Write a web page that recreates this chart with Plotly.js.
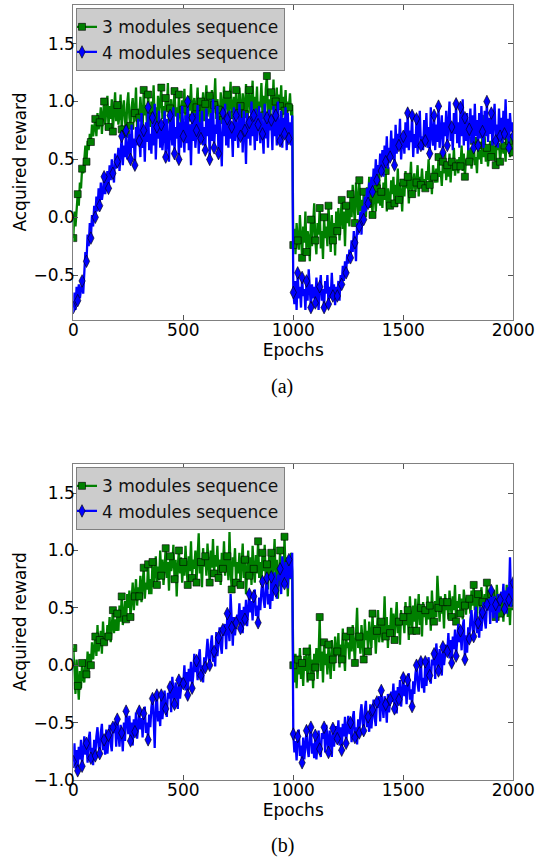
<!DOCTYPE html>
<html><head><meta charset="utf-8">
<script src="https://cdn.plot.ly/plotly-3.0.1.min.js"></script>
<style>html,body{margin:0;padding:0;background:#fff}#chart{width:536px;height:858px}</style>
</head><body><div id="chart"></div>
<script>
// ---- data: acquired reward, one value every 5 epochs (0..2000) ----
const epochStep = 5;
const seriesNames = ['3 modules sequence', '4 modules sequence'];
const xTicks = [0, 500, 1000, 1500, 2000];
const yTicksA = [-0.5, 0, 0.5, 1, 1.5];
const yTicksB = [-1, -0.5, 0, 0.5, 1, 1.5];
const captions = ['(a)', '(b)'];

// (a) 3 modules sequence
const greenA = [
 -0.18,0.05,-0.08,0.12,0.2,0.1,0.3,0.25,0.42,0.38,
 0.5,0.62,0.48,0.66,0.58,0.72,0.65,0.8,0.7,0.76,
 0.85,0.7,0.9,0.76,0.82,0.95,0.72,0.88,1.0,0.8,
 0.92,1.05,0.78,0.96,0.85,1.02,0.74,0.9,1.08,0.83,
 0.97,0.8,0.88,1.06,0.76,0.93,1.01,0.84,0.72,0.98,
 1.08,0.86,0.79,0.95,1.03,0.82,0.9,1.12,0.77,0.94,
 0.86,1.04,0.93,0.75,1.1,0.88,0.97,0.8,1.06,0.91,
 0.78,1.0,0.87,1.14,0.83,0.95,0.74,1.05,0.9,0.99,
 1.12,0.85,0.96,0.79,1.03,0.92,1.16,0.81,0.94,1.02,
 0.76,0.98,1.09,0.87,0.95,0.8,1.06,0.9,0.78,1.01,
 0.93,1.11,0.84,0.99,0.77,1.05,0.92,1.15,0.86,0.97,
 1.03,0.8,0.95,1.12,0.88,0.76,1.0,0.91,1.08,0.83,
 0.98,1.14,0.87,0.94,1.05,0.79,1.1,0.9,0.97,1.2,
 0.85,1.02,0.93,0.78,1.08,0.96,0.84,1.13,0.9,1.0,
 1.06,0.82,0.99,1.17,0.88,0.95,1.04,0.8,1.1,0.93,
 0.87,1.12,0.96,0.81,1.07,1.0,0.89,1.15,0.84,1.03,
 1.1,0.9,0.98,1.18,0.85,1.04,0.92,1.13,0.83,1.0,
 0.95,1.16,0.88,1.05,0.8,1.11,1.22,0.9,1.02,0.86,
 1.08,0.93,1.19,0.84,1.0,1.12,0.88,1.06,0.96,1.14,
 0.86,1.04,0.92,1.1,0.83,1.0,0.95,1.07,0.88,0.97,
 -0.24,-0.1,-0.32,-0.05,-0.2,-0.28,0.02,-0.15,-0.35,-0.08,
 -0.22,0.05,-0.3,-0.12,-0.18,-0.38,-0.02,-0.25,-0.1,0.12,
 -0.2,-0.32,-0.05,-0.15,0.08,-0.27,-0.12,-0.36,0.0,-0.18,
 -0.08,-0.25,0.1,-0.15,-0.3,0.02,-0.2,-0.05,-0.33,0.05,
 -0.12,0.08,-0.2,-0.02,0.15,-0.1,0.05,-0.25,0.1,-0.05,
 0.12,-0.08,0.2,0.0,0.28,0.08,-0.05,0.3,0.15,0.02,
 0.32,0.05,0.15,-0.05,0.22,0.1,0.0,0.26,0.12,0.35,
 0.08,0.2,0.02,0.3,0.15,0.05,0.25,0.12,0.38,0.1,
 0.22,0.08,0.3,0.15,0.4,0.05,0.25,0.18,0.1,0.32,
 0.2,0.35,0.12,0.28,0.18,0.42,0.15,0.3,0.22,0.05,
 0.3,0.18,0.4,0.25,0.35,0.12,0.32,0.48,0.2,0.28,
 0.38,0.22,0.3,0.45,0.18,0.35,0.28,0.42,0.26,0.33,
 0.25,0.4,0.32,0.5,0.28,0.36,0.2,0.45,0.35,0.3,
 0.42,0.3,0.52,0.35,0.4,0.27,0.48,0.38,0.56,0.32,
 0.45,0.35,0.55,0.3,0.48,0.4,0.6,0.36,0.44,0.5,
 0.38,0.52,0.44,0.62,0.4,0.55,0.35,0.5,0.46,0.58,
 0.48,0.6,0.42,0.55,0.66,0.45,0.52,0.38,0.62,0.5,
 0.58,0.46,0.85,0.52,0.7,0.48,0.6,0.44,0.56,0.66,
 0.52,0.68,0.5,0.62,0.45,0.72,0.58,0.64,0.48,0.6,
 0.7,0.55,0.62,0.48,0.75,0.58,0.66,0.52,0.72,0.6,
 0.56
];
// (a) 4 modules sequence
const blueA = [
 -0.78,-0.65,-0.8,-0.6,-0.72,-0.58,-0.7,-0.62,-0.55,-0.66,
 -0.45,-0.3,-0.38,-0.15,-0.25,-0.05,-0.18,0.02,-0.08,0.1,
 0.0,0.18,0.05,0.25,0.1,0.3,0.15,0.22,0.35,0.2,
 0.28,0.4,0.25,0.45,0.32,0.5,0.38,0.3,0.55,0.42,
 0.48,0.6,0.4,0.55,0.7,0.45,0.62,0.52,0.75,0.5,
 0.58,0.72,0.5,0.8,0.6,0.68,0.45,0.78,0.62,0.85,
 0.66,0.52,0.9,0.6,0.75,0.48,0.82,0.65,0.95,0.58,
 0.72,0.55,0.86,0.62,0.98,0.5,0.78,0.68,0.92,0.6,
 0.8,0.58,0.7,0.92,0.52,0.85,0.65,0.48,0.88,0.72,
 0.62,0.95,0.55,0.78,0.68,0.9,0.5,0.82,0.6,0.96,
 0.7,0.56,0.88,0.64,1.0,0.58,0.8,0.45,0.86,0.66,
 0.9,0.6,0.75,0.97,0.55,0.82,0.68,0.92,0.62,0.78,
 0.58,0.94,0.7,0.85,0.5,0.9,0.66,1.02,0.6,0.8,
 0.72,0.96,0.55,0.84,0.65,0.44,0.9,0.7,0.98,0.62,
 0.85,0.6,0.92,0.68,0.78,0.52,0.95,0.66,0.88,0.74,
 0.6,0.98,0.7,0.86,0.56,0.92,0.75,0.46,0.9,0.68,
 0.82,0.62,1.0,0.7,0.88,0.58,0.94,0.66,0.8,0.96,
 0.64,0.9,0.72,0.55,0.98,0.68,0.86,0.6,0.93,0.75,
 0.84,0.58,0.96,0.7,0.88,0.62,1.0,0.74,0.66,0.92,
 0.6,0.86,0.72,0.95,0.58,0.9,0.68,0.82,0.62,0.88,
 -0.65,-0.75,-0.55,-0.8,-0.48,-0.7,-0.6,-0.78,-0.52,-0.68,
 -0.62,-0.8,-0.55,-0.72,-0.45,-0.66,-0.78,-0.58,-0.7,-0.6,
 -0.74,-0.52,-0.68,-0.8,-0.6,-0.5,-0.72,-0.62,-0.78,-0.55,
 -0.66,-0.5,-0.75,-0.6,-0.7,-0.48,-0.68,-0.58,-0.76,-0.6,
 -0.68,-0.55,-0.72,-0.5,-0.58,-0.42,-0.55,-0.38,-0.48,-0.32,
 -0.4,-0.28,-0.35,-0.2,-0.3,-0.12,-0.22,-0.38,-0.05,-0.15,
 -0.08,0.05,-0.15,0.1,-0.02,0.18,0.05,0.25,0.12,0.3,
 0.2,0.35,0.22,0.42,0.28,0.5,0.32,0.45,0.38,0.55,
 0.4,0.58,0.35,0.62,0.48,0.7,0.42,0.6,0.52,0.75,
 0.5,0.68,0.45,0.8,0.55,0.72,0.62,0.85,0.5,0.66,
 0.7,0.55,0.82,0.6,0.9,0.58,0.75,0.65,0.88,0.52,
 0.72,0.6,0.85,0.55,0.78,0.92,0.62,0.7,0.58,0.84,
 0.66,0.9,0.6,0.78,0.55,0.95,0.7,0.62,0.88,0.58,
 0.8,0.65,0.96,0.6,0.75,0.88,0.56,0.82,0.7,0.92,
 0.62,0.85,1.0,0.66,0.78,0.58,0.9,0.72,0.98,0.64,
 0.82,0.6,0.95,0.7,1.02,0.62,0.86,0.66,0.9,0.58,
 0.76,0.94,0.64,0.88,0.6,0.98,0.7,0.84,0.62,0.9,
 0.68,0.96,0.74,0.6,0.92,0.7,1.0,0.65,0.86,0.72,
 0.9,0.62,0.84,0.98,0.66,0.8,0.6,0.94,0.7,0.86,
 0.64,0.92,0.72,1.02,0.68,0.85,0.6,0.9,0.74,0.82,
 0.7
];
// (b) 3 modules sequence
const greenB = [
 0.15,-0.1,-0.25,0.05,-0.18,-0.3,-0.05,-0.2,0.02,-0.12,
 -0.15,0.05,-0.08,0.12,-0.05,0.1,0.0,0.2,0.05,0.15,
 0.25,0.08,0.35,0.12,0.22,0.3,0.1,0.38,0.2,0.28,
 0.18,0.35,0.25,0.42,0.2,0.32,0.48,0.28,0.4,0.3,
 0.45,0.3,0.52,0.38,0.6,0.35,0.48,0.56,0.4,0.62,
 0.5,0.65,0.42,0.58,0.72,0.48,0.6,0.75,0.52,0.68,
 0.6,0.78,0.55,0.7,0.85,0.58,0.72,0.66,0.88,0.62,
 0.75,0.62,0.9,0.68,0.82,0.95,0.7,0.86,0.74,1.0,
 0.78,0.92,0.7,0.85,1.02,0.76,0.9,0.65,0.95,0.82,
 0.88,1.05,0.75,0.92,0.6,0.86,1.0,0.8,0.94,0.72,
 0.9,0.78,1.04,0.85,0.7,0.95,0.82,1.08,0.76,0.92,
 0.84,1.0,0.72,0.94,1.15,0.8,0.9,0.68,1.02,0.86,
 0.95,0.78,1.06,0.88,0.72,1.0,0.85,1.1,0.8,0.96,
 0.86,1.04,0.76,0.92,0.7,0.98,0.84,1.08,0.78,0.9,
 0.95,0.74,1.16,0.82,0.66,0.94,0.86,1.02,0.72,0.9,
 0.8,0.98,0.7,0.88,1.06,0.76,0.92,0.62,0.85,1.0,
 0.78,0.94,0.7,1.04,0.84,0.72,0.96,0.8,1.08,0.76,
 0.9,0.7,0.98,0.82,1.05,0.74,0.88,0.66,0.95,0.8,
 0.98,0.75,0.88,1.1,0.72,0.92,0.58,0.85,1.0,0.78,
 0.9,0.68,1.12,0.8,0.94,0.6,0.88,0.75,0.98,0.82,
 0.0,-0.15,0.1,-0.2,0.05,-0.08,0.15,-0.12,0.02,-0.18,
 0.08,-0.05,0.12,-0.15,0.0,0.18,-0.1,0.05,-0.2,0.1,
 -0.02,0.15,-0.12,0.08,0.42,-0.05,0.12,-0.15,0.2,0.0,
 0.1,-0.08,0.18,0.02,-0.12,0.22,0.05,-0.05,0.25,0.08,
 0.12,0.28,-0.02,0.18,0.05,0.32,0.1,-0.05,0.25,0.15,
 0.2,0.05,0.3,0.12,0.35,0.18,0.02,0.28,0.5,0.15,
 0.25,0.1,0.35,0.2,0.05,0.4,0.22,0.3,0.12,0.38,
 0.28,0.15,0.45,0.22,0.35,0.1,0.3,0.48,0.2,0.32,
 0.38,0.2,0.3,0.6,0.25,0.42,0.15,0.35,0.28,0.5,
 0.3,0.45,0.22,0.4,0.55,0.28,0.38,0.18,0.48,0.35,
 0.42,0.28,0.55,0.35,0.48,0.22,0.6,0.4,0.3,0.52,
 0.38,0.58,0.3,0.45,0.62,0.35,0.5,0.25,0.55,0.42,
 0.48,0.35,0.6,0.4,0.52,0.3,0.65,0.45,0.38,0.56,
 0.42,0.78,0.5,0.38,0.6,0.45,0.55,0.32,0.62,0.48,
 0.55,0.4,0.65,0.5,0.42,0.6,0.48,0.7,0.38,0.56,
 0.5,0.62,0.45,0.58,0.4,0.66,0.52,0.44,0.6,0.5,
 0.58,0.45,0.65,0.52,0.7,0.48,0.6,0.42,0.62,0.55,
 0.5,0.68,0.55,0.45,0.62,0.52,0.72,0.48,0.6,0.56,
 0.62,0.48,0.66,0.55,0.42,0.7,0.52,0.6,0.45,0.64,
 0.55,0.38,0.6,0.5,0.7,0.42,0.58,0.35,0.65,0.48,
 0.55
];
// (b) 4 modules sequence
const blueB = [
 -0.84,-0.68,-0.9,-0.74,-0.92,-0.71,-0.82,-0.65,-0.88,-0.77,
 -0.62,-0.78,-0.68,-0.85,-0.64,-0.58,-0.81,-0.72,-0.87,-0.65,
 -0.79,-0.62,-0.54,-0.7,-0.77,-0.59,-0.51,-0.74,-0.65,-0.78,
 -0.56,-0.77,-0.61,-0.52,-0.68,-0.75,-0.54,-0.59,-0.49,-0.71,
 -0.47,-0.62,-0.71,-0.52,-0.59,-0.75,-0.5,-0.66,-0.4,-0.48,
 -0.6,-0.44,-0.66,-0.5,-0.7,-0.47,-0.58,-0.41,-0.64,-0.53,
 -0.4,-0.56,-0.46,-0.63,-0.42,-0.36,-0.59,-0.5,-0.65,-0.43,
 -0.54,-0.37,-0.29,-0.45,-0.72,-0.34,-0.26,-0.49,-0.4,-0.53,
 -0.26,-0.47,-0.31,-0.22,-0.38,-0.45,-0.24,-0.29,-0.19,-0.41,
 -0.1,-0.25,-0.34,-0.15,-0.22,-0.38,-0.13,-0.29,-0.18,-0.11,
 -0.16,0.0,-0.22,-0.06,-0.26,-0.03,-0.14,0.03,-0.2,-0.09,
 0.1,-0.06,0.04,-0.13,0.08,0.14,-0.09,0.0,-0.15,0.07,
 -0.02,0.15,0.23,0.07,0.0,0.18,0.26,0.03,0.12,-0.01,
 0.29,0.08,0.24,0.33,0.17,0.1,0.31,0.26,0.36,0.14,
 0.45,0.3,0.21,0.62,0.33,0.17,0.42,0.26,0.37,0.44,
 0.38,0.54,0.32,0.48,0.28,0.51,0.4,0.57,0.34,0.45,
 0.62,0.46,0.56,0.39,0.6,0.66,0.43,0.52,0.37,0.59,
 0.48,0.65,0.73,0.57,0.5,0.68,0.76,0.53,0.62,0.49,
 0.77,0.56,0.72,0.81,0.65,0.58,0.79,0.74,0.84,0.62,
 0.95,0.8,0.71,0.9,0.83,0.67,0.92,0.76,0.87,0.98,
 -0.6,-0.76,-0.66,-0.83,-0.62,-0.56,-0.79,-0.7,-0.85,-0.63,
 -0.82,-0.65,-0.57,-0.73,-0.8,-0.62,-0.54,-0.77,-0.68,-0.81,
 -0.61,-0.82,-0.66,-0.57,-0.73,-0.8,-0.59,-0.64,-0.54,-0.76,
 -0.52,-0.67,-0.76,-0.57,-0.64,-0.8,-0.55,-0.71,-0.6,-0.53,
 -0.64,-0.48,-0.7,-0.54,-0.74,-0.51,-0.62,-0.45,-0.68,-0.57,
 -0.44,-0.6,-0.5,-0.67,-0.46,-0.4,-0.63,-0.54,-0.69,-0.47,
 -0.59,-0.42,-0.34,-0.5,-0.57,-0.39,-0.31,-0.54,-0.45,-0.58,
 -0.34,-0.55,-0.39,-0.3,-0.46,-0.53,-0.32,-0.37,-0.27,-0.49,
 -0.22,-0.37,-0.46,-0.27,-0.34,-0.5,-0.25,-0.41,-0.3,-0.23,
 -0.32,-0.16,-0.38,-0.22,-0.42,-0.19,-0.3,-0.13,-0.36,-0.25,
 -0.11,-0.27,-0.17,-0.34,-0.13,-0.07,-0.3,-0.21,-0.36,-0.14,
 -0.25,-0.08,0.0,-0.16,-0.23,-0.05,0.03,-0.2,-0.11,-0.24,
 0.03,-0.18,-0.02,0.07,-0.09,-0.16,0.05,0.0,0.1,-0.12,
 0.19,0.04,-0.05,0.14,0.07,-0.09,0.16,0.0,0.11,0.18,
 0.12,0.28,0.06,0.22,0.02,0.25,0.14,0.31,0.08,0.19,
 0.36,0.2,0.3,0.13,0.34,0.4,0.05,0.26,0.11,0.33,
 0.23,0.4,0.48,0.32,0.25,0.43,0.51,0.28,0.37,0.24,
 0.51,0.3,0.46,0.55,0.39,0.32,0.53,0.48,0.58,0.36,
 0.65,0.5,0.41,0.6,0.53,0.37,0.62,0.46,0.57,0.64,
 0.55,0.71,0.49,0.65,0.45,0.68,0.57,0.94,0.51,0.62,
 0.72
];

const epochs = greenA.map((_, i) => i * epochStep);

// ---- styling ----
const W = 536, H = 858;
const GREEN = '#008000', BLUE = '#0000ff';
const EDGE = 'rgba(0,0,0,0.6)';
const FONT = 'DejaVu Sans';
const FS = 17;
const MARK_EVERY = 4;

function markArr(n, c) {
  return Array.from({length: n}, (_, i) => (i % MARK_EVERY === 0 ? c : 'rgba(0,0,0,0)'));
}
function series(y, name, color, symbol, size, xa, ya, legend) {
  return {
    type: 'scatter', mode: 'lines+markers', x: epochs, y: y, name: name,
    xaxis: xa, yaxis: ya, legend: legend, hoverinfo: 'skip', cliponaxis: true,
    line: {color: color, width: 2.3},
    marker: {symbol: symbol, size: size, color: markArr(y.length, color),
             line: {color: markArr(y.length, EDGE), width: 1}}
  };
}

const data = [
  series(greenA, seriesNames[0], GREEN, 'square', 7, 'x', 'y', 'legend'),
  series(blueA, seriesNames[1], BLUE, 'diamond-tall', 9, 'x', 'y', 'legend'),
  series(greenB, seriesNames[0], GREEN, 'square', 7, 'x2', 'y2', 'legend2'),
  series(blueB, seriesNames[1], BLUE, 'diamond-tall', 9, 'x2', 'y2', 'legend2')
];

const px = v => v / W;
const py = v => 1 - v / H;

function xAxis(anchor) {
  return {
    anchor: anchor, domain: [px(73.3), px(513.3)], range: [0, 2000],
    tickvals: xTicks, tickformat: 'd', ticks: 'inside', ticklen: 5, tickwidth: 1, tickcolor: '#555',
    ticklabelstandoff: -5,
    showline: true, linecolor: '#808080', linewidth: 1, mirror: 'ticks',
    showgrid: false, zeroline: false, fixedrange: true,
    tickfont: {family: FONT, size: FS, color: '#000'},
    title: {text: 'Epochs', font: {family: FONT, size: FS, color: '#000'}, standoff: 0}
  };
}
function yAxis(anchor, top, bottom, range, ticks) {
  return {
    anchor: anchor, domain: [py(bottom), py(top)], range: range,
    tickvals: ticks, tickformat: '.1f', ticks: 'inside', ticklen: 5, tickwidth: 1, tickcolor: '#555',
    ticklabelstandoff: -6,
    showline: true, linecolor: '#808080', linewidth: 1, mirror: 'ticks',
    showgrid: false, zeroline: false, fixedrange: true,
    tickfont: {family: FONT, size: FS, color: '#000'},
    title: {text: 'Acquired reward', font: {family: FONT, size: FS, color: '#000'}, standoff: 2}
  };
}
function legendCfg(topPx) {
  return {
    x: px(76), y: py(topPx), xanchor: 'left', yanchor: 'top',
    bgcolor: '#cccccc', bordercolor: '#808080', borderwidth: 1, indentation: -15,
    font: {family: FONT, size: FS, color: '#111'}, itemwidth: 30, tracegroupgap: 0
  };
}

const layout = {
  width: W, height: H, margin: {l: 0, r: 0, t: 0, b: 0},
  paper_bgcolor: '#fff', plot_bgcolor: '#fff', showlegend: true,
  font: {family: FONT, size: FS, color: '#000'},
  xaxis: xAxis('y'),
  yaxis: yAxis('x', 4.5, 319.5, [-0.883, 1.838], yTicksA),
  xaxis2: xAxis('y2'),
  yaxis2: yAxis('x2', 463.5, 780, [-1.0, 1.758], yTicksB),
  legend: legendCfg(8.3),
  legend2: legendCfg(467.3),
  annotations: [
    {text: captions[0], xref: 'paper', yref: 'paper', x: px(282), y: py(386), xanchor: 'center', yanchor: 'middle',
     showarrow: false, font: {family: 'Liberation Serif', size: 20, color: '#000'}},
    {text: captions[1], xref: 'paper', yref: 'paper', x: px(282), y: py(845), xanchor: 'center', yanchor: 'middle',
     showarrow: false, font: {family: 'Liberation Serif', size: 20, color: '#000'}}
  ]
};

Plotly.newPlot('chart', data, layout, {staticPlot: true, displayModeBar: false});
</script>
</body></html>
